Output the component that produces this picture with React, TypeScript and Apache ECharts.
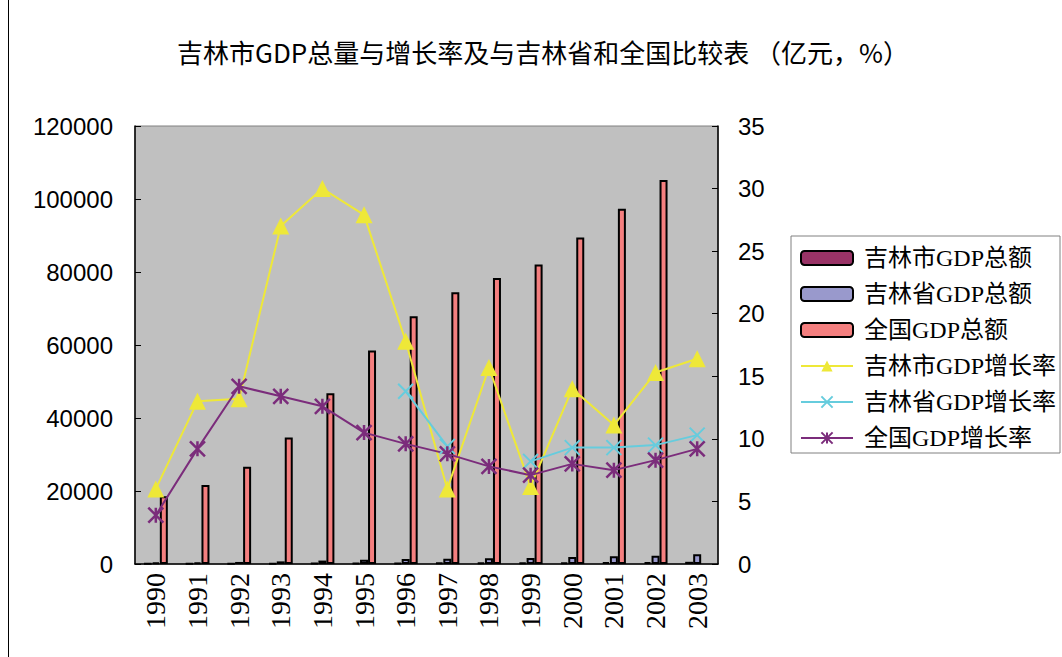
import React, { useEffect, useRef } from "react";
import * as echarts from "echarts";

const years = ["1990", "1991", "1992", "1993", "1994", "1995", "1996", "1997", "1998", "1999", "2000", "2001", "2002", "2003"];
const cityGdp = [98, 110, 135, 180, 230, 275, 320, 358, 390, 410, 440, 480, 530, 600];
const provGdp = [425, 463, 558, 718, 937, 1137, 1347, 1447, 1558, 1661, 1952, 2120, 2246, 2662];
const nationGdp = [18548, 21618, 26638, 34634, 46759, 58478, 67885, 74463, 78345, 82068, 89468, 97315, 105172, null];
const cityRate = [6.0, 13.0, 13.2, 27.0, 30.0, 27.9, 17.8, 6.0, 15.7, 6.2, 14.0, 11.1, 15.3, 16.4];
const provRate = [null, null, null, null, null, null, 13.8, 9.4, null, 8.2, 9.3, 9.3, 9.5, 10.3];
const nationRate = [3.9, 9.2, 14.2, 13.4, 12.6, 10.5, 9.6, 8.8, 7.8, 7.1, 8.0, 7.5, 8.3, 9.2];

const seriesNames = ["吉林市GDP总额", "吉林省GDP总额", "全国GDP总额", "吉林市GDP增长率", "吉林省GDP增长率", "全国GDP增长率"];

export default function App() {
  const ref = useRef<HTMLDivElement>(null);
  useEffect(() => {
    if (!ref.current) return;
    const chart = echarts.init(ref.current, null, { renderer: "svg" });
    const axisFont = { fontFamily: "Liberation Sans, Arial, sans-serif", fontSize: 24, color: "#000" };
    const barBorder = { borderColor: "#000", borderWidth: 2 };
    chart.setOption({
      animation: false,
      backgroundColor: "#fff",
      title: {
        text: "吉林市GDP总量与增长率及与吉林省和全国比较表 （亿元，%）",
        left: 538,
        textAlign: "center",
        top: 33,
        textStyle: { fontFamily: "Noto Sans CJK SC, sans-serif", fontSize: 26, fontWeight: "normal", color: "#000" },
      },
      graphic: [
        { type: "line", shape: { x1: 8.5, y1: 0, x2: 8.5, y2: 657 }, style: { stroke: "#000", lineWidth: 1 } },
      ],
      legend: {
        orient: "vertical",
        left: 791,
        top: 236,
        width: 268,
        padding: [10, 4, 3, 9],
        itemGap: 12,
        itemWidth: 52,
        itemHeight: 14,
        backgroundColor: "#fff",
        borderColor: "#808080",
        borderWidth: 1,
        data: seriesNames,
        textStyle: {
          fontFamily: "Liberation Serif, Noto Sans CJK SC, serif",
          fontSize: 24,
          lineHeight: 24,
          color: "#000",
          padding: [0, 0, 0, 6],
        },
      },
      grid: {
        left: 135,
        right: 344,
        top: 126,
        bottom: 93,
        show: true,
        backgroundColor: "#C0C0C0",
        borderColor: "#808080",
        borderWidth: 1,
      },
      xAxis: {
        type: "category",
        data: years,
        boundaryGap: true,
        axisLine: { lineStyle: { color: "#000", width: 1.5 } },
        axisTick: { inside: true, length: 6, interval: 0, lineStyle: { color: "#000" } },
        axisLabel: {
          rotate: 90,
          interval: 0,
          margin: 9,
          fontFamily: "Liberation Serif, Times New Roman, serif",
          fontSize: 28,
          color: "#000",
        },
      },
      yAxis: [
        {
          type: "value",
          min: 0,
          max: 120000,
          interval: 20000,
          position: "left",
          axisLine: { show: true, lineStyle: { color: "#000", width: 1.5 } },
          axisTick: { show: true, inside: true, length: 6, lineStyle: { color: "#000" } },
          splitLine: { show: false },
          axisLabel: { ...axisFont, margin: 22, formatter: (v: number) => String(v) },
        },
        {
          type: "value",
          min: 0,
          max: 35,
          interval: 5,
          position: "right",
          axisLine: { show: true, lineStyle: { color: "#000", width: 1.5 } },
          axisTick: { show: true, inside: true, length: 6, lineStyle: { color: "#000" } },
          splitLine: { show: false },
          axisLabel: { ...axisFont, margin: 20 },
        },
      ],
      series: [
        {
          name: seriesNames[0],
          type: "bar",
          data: cityGdp,
          barWidth: 8,
          barGap: "0%",
          itemStyle: { color: "#993366", ...barBorder },
        },
        {
          name: seriesNames[1],
          type: "bar",
          data: provGdp,
          barWidth: 8,
          barGap: "0%",
          itemStyle: { color: "#9999CC", ...barBorder },
        },
        {
          name: seriesNames[2],
          type: "bar",
          data: nationGdp,
          barWidth: 8,
          barGap: "0%",
          itemStyle: { color: "#F47F7F", ...barBorder },
        },
        {
          name: seriesNames[3],
          type: "line",
          yAxisIndex: 1,
          data: cityRate,
          symbol: "triangle",
          symbolSize: 17,
          lineStyle: { color: "#EEE838", width: 2 },
          itemStyle: { color: "#EEE838" },
        },
        {
          name: seriesNames[4],
          type: "line",
          yAxisIndex: 1,
          data: provRate,
          symbol: "path://M0,0L10,10M10,0L0,10",
          symbolSize: 15,
          lineStyle: { color: "#66CCDD", width: 2 },
          itemStyle: { color: "#66CCDD", borderColor: "#66CCDD", borderWidth: 2 },
        },
        {
          name: seriesNames[5],
          type: "line",
          yAxisIndex: 1,
          data: nationRate,
          symbol: "path://M0,0L10,10M10,0L0,10M5,0L5,10",
          symbolSize: 15,
          lineStyle: { color: "#7B2C7B", width: 2 },
          itemStyle: { color: "#7B2C7B", borderColor: "#7B2C7B", borderWidth: 2.5 },
        },
      ],
    });
    return () => chart.dispose();
  }, []);
  return <div ref={ref} style={{ position: "absolute", left: 0, top: 0, width: 1062, height: 657 }} />;
}
